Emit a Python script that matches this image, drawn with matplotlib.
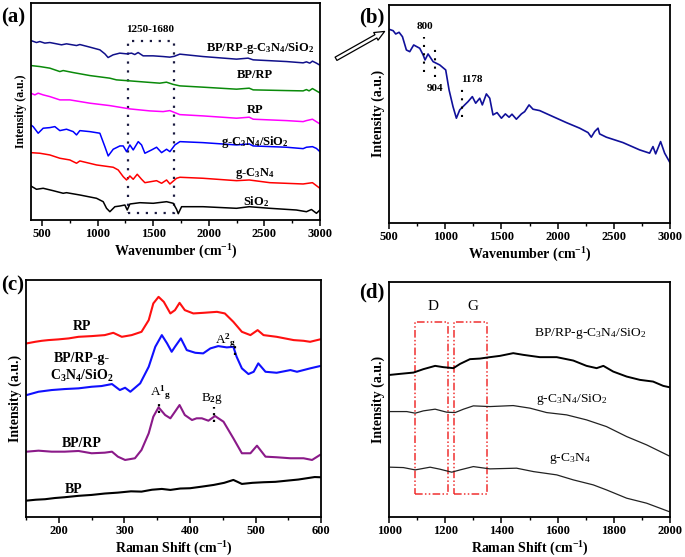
import matplotlib.pyplot as plt
from matplotlib.patches import Rectangle, FancyArrowPatch
from matplotlib.ticker import MultipleLocator

# ---------- (a) FTIR spectra ----------
a_bprp_gcn_x = [400, 451, 481, 526, 571, 631, 676, 721, 811, 841, 931, 1021, 1066, 1095, 1140, 1200, 1261, 1306,
                1335, 1365, 1410, 1500, 1590, 1650, 1690, 1740, 1949, 2250, 2354, 2400, 2700, 2849, 2879, 2909,
                2933, 2969, 3000]
a_bprp_gcn_y = [179.3, 177.3, 178.3, 176.7, 177.3, 176, 175, 176, 174.3, 175.3, 172.7, 170, 166, 162.3, 165, 166.7,
                166, 166.7, 165.3, 167.3, 164, 164, 163.3, 162.7, 163.5, 165.7, 163.3, 160.7, 161.7, 160, 158.3,
                157, 158, 156.7, 158.7, 156.7, 154.7]

a_bprp_x = [400, 481, 571, 661, 691, 781, 931, 1110, 1170, 1290, 1440, 1560, 1620, 1680, 1740, 1949, 2250, 2364,
            2400, 2700, 2849, 2879, 2903, 2933, 3000]
a_bprp_y = [154.3, 153.3, 151.7, 148.3, 149.3, 147.3, 144.3, 141.7, 140, 139, 137.7, 136.7, 137.7, 135.5, 134,
            132.7, 130.7, 131.7, 130, 129.3, 129, 130.3, 129, 131.3, 127]

a_rp_x = [400, 436, 466, 511, 571, 661, 751, 931, 1110, 1290, 1470, 1590, 1650, 1740, 1949, 2250, 2364, 2400, 2700,
          2849, 2879, 2933, 3000]
a_rp_y = [126.7, 125, 126.7, 125, 123.3, 120, 120, 116.7, 114.3, 111, 109, 108.3, 109.3, 105.3, 104, 101.7, 102.7,
          100.7, 99.3, 98.3, 99.3, 100.7, 96]

a_gcn_si_x = [400, 421, 466, 511, 571, 616, 661, 721, 781, 811, 841, 931, 1021, 1066, 1096, 1141, 1201, 1231, 1261,
              1291, 1321, 1366, 1396, 1426, 1486, 1531, 1576, 1621, 1651, 1696, 1741, 1949, 2250, 2364, 2400, 2700,
              2849, 2879, 2933, 2969, 3000]
a_gcn_si_y = [95, 93.3, 86.7, 91.7, 92.3, 93.3, 89.3, 90.7, 88.3, 85, 89.3, 88.3, 86.7, 73.3, 64, 70.7, 74, 74, 68.3,
              75, 70, 78.3, 75, 66.7, 70, 72.7, 67.3, 70.7, 68.3, 75, 78.3, 77.3, 75, 76, 74, 72.7, 71.3, 72.7, 73.3,
              71.5, 68.3]

a_gcn_x = [400, 481, 571, 661, 751, 811, 841, 991, 1141, 1186, 1231, 1261, 1291, 1321, 1357, 1396, 1426, 1531, 1576,
           1621, 1651, 1711, 1741, 1949, 2250, 2364, 2550, 2849, 2933, 3000]
a_gcn_y = [67.3, 66.7, 65, 61.7, 60, 56.7, 59, 55, 52.7, 50, 43.3, 40, 44, 40.7, 45.7, 40.7, 37.3, 39.3, 36.7, 40, 36,
           41.7, 42.7, 41.7, 39.3, 40, 37.3, 36, 37.3, 31.7]

a_si_x = [400, 451, 511, 601, 691, 721, 841, 991, 1051, 1081, 1111, 1156, 1201, 1246, 1267, 1291, 1381, 1501, 1621,
          1681, 1711, 1726, 1756, 1949, 2250, 2364, 2550, 2788, 2879, 2924, 2969, 3000]
a_si_y = [34, 30.7, 31.7, 29.3, 26.7, 27.3, 25, 21.7, 18.3, 11.7, 8.3, 13.3, 14, 15, 10, 16, 17.3, 16.7, 18.3, 16.7,
          10.7, 6.3, 13.3, 13.3, 11.7, 13.3, 11.7, 10, 8.3, 10.5, 6.7, 10]

# ---------- (b) FTIR of BP/RP-g-C3N4/SiO2 ----------
b_x = [500, 536, 559, 589, 619, 654, 684, 719, 773, 803, 820, 847, 892, 951, 1004, 1034, 1069, 1099, 1129, 1173,
       1203, 1241, 1271, 1307, 1330, 1366, 1396, 1425, 1461, 1500, 1535, 1568, 1594, 1633, 1678, 1707, 1746, 1781,
       1841, 1959, 2078, 2197, 2271, 2300, 2330, 2360, 2374, 2434, 2582, 2730, 2819, 2849, 2873, 2917, 2953, 3000]
b_y = [193.7, 192.3, 189, 190.7, 186.3, 173, 171.3, 178, 174.7, 168, 163, 169, 161.3, 158, 153, 133, 116.3, 104.7,
       113, 118, 121.3, 126.3, 119.7, 124.7, 118, 129, 124.7, 108, 110.3, 104.7, 109, 105.7, 108.7, 103.7, 109,
       111.3, 118, 113.7, 112.3, 106.3, 100.3, 94.7, 90.3, 85.7, 91.3, 94.7, 89, 85.7, 80.3, 73, 69.7, 76.3, 69,
       81.3, 69.7, 60.3]

# ---------- (c) Raman spectra ----------
c_rp_x = [151, 164, 174, 184, 199, 215, 230, 250, 270, 283, 296, 311, 326, 337, 344, 352, 360, 370, 377, 384, 392,
          405, 420, 441, 453, 466, 479, 492, 503, 512, 532, 558, 573, 583, 598]
c_rp_y = [173.7, 175.3, 176.3, 177, 177.7, 178.7, 180.3, 181, 182, 184.3, 180.3, 182, 185.3, 197, 213.7, 220.3,
          215.3, 203.7, 207, 214.3, 207, 203.7, 204.3, 205.3, 203.7, 195.3, 185.3, 182, 187, 182, 180.3, 177,
          176.3, 175.3, 177.7]

c_bprp_gcn_x = [151, 169, 189, 209, 230, 250, 265, 281, 293, 301, 309, 324, 337, 347, 357, 365, 372, 377, 386, 395,
                408, 420, 431, 443, 456, 466, 471, 479, 489, 497, 504, 515, 532, 553, 563, 583, 598]
c_bprp_gcn_y = [122, 125.3, 127, 128, 128.7, 130.3, 131, 133, 127, 129.3, 125.3, 133.7, 150.3, 170.3, 182, 173.7,
                165.3, 170.3, 178.7, 167, 164.3, 163.7, 168.7, 171, 169.7, 170.3, 160.3, 148.7, 143, 145.3, 153.7,
                145.3, 144.3, 147, 145.3, 148.7, 151]

c_bprp_x = [151, 169, 189, 209, 230, 250, 270, 281, 290, 301, 316, 326, 337, 344, 352, 362, 370, 377, 384, 392, 403,
            410, 418, 428, 438, 451, 466, 479, 492, 502, 515, 532, 553, 573, 586, 598]
c_bprp_y = [65.3, 66.3, 65.3, 65.3, 66, 63.7, 64.3, 65.3, 60.3, 57, 58.7, 67, 83.7, 100.3, 109.7, 102, 98.7, 105.3,
            112, 102, 97, 98.7, 98.7, 96.3, 101, 95.3, 78.7, 63.7, 63.7, 71.3, 60.3, 59.7, 58.7, 58.7, 57, 62]

c_bp_x = [151, 165, 179, 194, 209, 230, 250, 270, 290, 310, 326, 342, 357, 370, 385, 400, 418, 436, 452, 466, 472,
          479, 495, 512, 530, 548, 565, 578, 590, 598]
c_bp_y = [16.3, 17.2, 17.7, 18.9, 19.7, 21.1, 22, 23.4, 24.3, 25.6, 25.3, 27.2, 28, 27, 28.4, 28.7, 30.3, 32, 34.1,
          37, 35.2, 33, 34.1, 34.7, 35.1, 36.3, 37.4, 38.7, 39.9, 39.7]

# ---------- (d) Raman D/G region ----------
d_bprp_gcn_x = [1004, 1039, 1087, 1122, 1164, 1193, 1229, 1253, 1288, 1324, 1359, 1395, 1442, 1478, 1537, 1597, 1656,
                1703, 1739, 1763, 1798, 1846, 1893, 1940, 1976, 1997]
d_bprp_gcn_y = [142, 143, 144.3, 147.7, 151, 149.7, 148.7, 153, 157.7, 158.3, 159.7, 161, 163.7, 162, 159.7, 159.7,
                156.3, 151, 148.7, 151, 145.3, 140.3, 137, 135.3, 131, 129.7]

d_gcn_si_x = [1004, 1063, 1093, 1122, 1164, 1205, 1235, 1265, 1300, 1359, 1442, 1502, 1561, 1632, 1703, 1774, 1846,
              1917, 1997]
d_gcn_si_y = [105.3, 105.3, 103.7, 106, 107.7, 104.7, 104.3, 107.7, 111, 110.3, 111.3, 108.7, 104.3, 102, 97, 90.3,
              80.3, 72, 61]

d_gcn_x = [1004, 1051, 1093, 1146, 1181, 1223, 1253, 1300, 1359, 1454, 1514, 1597, 1656, 1727, 1774, 1846, 1917,
           1997]
d_gcn_y = [49.7, 49.3, 47, 49.7, 47.7, 44.7, 47, 50.3, 48, 48.7, 45.3, 42, 37, 32, 27, 18.7, 13.7, 5.3]


plt.rcParams['font.family'] = 'Liberation Serif'
plt.rcParams['mathtext.fontset'] = 'custom'
plt.rcParams['mathtext.rm'] = 'Liberation Serif:bold'
plt.rcParams['mathtext.bf'] = 'Liberation Serif:bold'
plt.rcParams['mathtext.sf'] = 'Liberation Serif'
plt.rcParams['mathtext.default'] = 'rm'


def style(ax, xlabel, major, minor, ysize=10):
    ax.set_yticks([])
    ax.xaxis.set_major_locator(MultipleLocator(major))
    ax.xaxis.set_minor_locator(MultipleLocator(minor))
    ax.tick_params(axis='x', which='major', direction='out', length=4, width=1.1, labelsize=9, pad=2)
    ax.tick_params(axis='x', which='minor', direction='out', length=2.2, width=1)
    for lab in ax.get_xticklabels():
        lab.set_fontweight('bold')
    for s in ax.spines.values():
        s.set_linewidth(1.3)
    ax.set_xlabel(xlabel, fontsize=10, fontweight='bold', labelpad=2)
    ax.set_ylabel('Intensity (a.u.)', fontsize=ysize, fontweight='bold', labelpad=3)


fig = plt.figure(figsize=(6.85, 5.57), dpi=100)

# (a)
ax1 = fig.add_axes([0.045, 0.605, 0.422, 0.39])
ax1.plot(a_bprp_gcn_x, a_bprp_gcn_y, color='#10108a', lw=1.1)
ax1.plot(a_bprp_x, a_bprp_y, color='#0a8a0a', lw=1.1)
ax1.plot(a_rp_x, a_rp_y, color='#ff00ff', lw=1.1)
ax1.plot(a_gcn_si_x, a_gcn_si_y, color='#0000ff', lw=1.1)
ax1.plot(a_gcn_x, a_gcn_y, color='#ff0000', lw=1.1)
ax1.plot(a_si_x, a_si_y, color='black', lw=1.1)
ax1.add_patch(Rectangle((1270, 6.7), 417, 172.3, fill=False, ec='#1a1a40', lw=1.6, ls=(0, (1, 3))))
ax1.text(1470, 190, '1250-1680', ha='center', va='center', fontsize=8, fontweight='bold')
ax1.text(2460, 171.7, 'BP/RP-g-C$_3$N$_4$/SiO$_2$', ha='center', va='center', fontsize=9, fontweight='bold')
ax1.text(2414, 145, 'BP/RP', ha='center', va='center', fontsize=9, fontweight='bold')
ax1.text(2414, 110, 'RP', ha='center', va='center', fontsize=9, fontweight='bold')
ax1.text(2414, 78.3, 'g-C$_3$N$_4$/SiO$_2$', ha='center', va='center', fontsize=9, fontweight='bold')
ax1.text(2414, 46.7, 'g-C$_3$N$_4$', ha='center', va='center', fontsize=9, fontweight='bold')
ax1.text(2430, 18.3, 'SiO$_2$', ha='center', va='center', fontsize=9, fontweight='bold')
ax1.set_xlim(400, 3000)
ax1.set_ylim(0, 217)
style(ax1, 'Wavenumber (cm$^{-1}$)', 500, 250, ysize=8.5)

# (b)
ax2 = fig.add_axes([0.568, 0.600, 0.410, 0.391])
ax2.plot(b_x, b_y, color='#10109a', lw=1.2)
ax2.plot([811, 811], [151.3, 186.3], color='black', lw=1.5, ls=(0, (1, 3)))
ax2.plot([906, 906], [146.3, 174.7], color='black', lw=1.5, ls=(0, (1, 3)))
ax2.plot([1150, 1150], [106.3, 134.7], color='black', lw=1.5, ls=(0, (1, 3)))
ax2.text(820, 196.3, '800', ha='center', va='center', fontsize=8, fontweight='bold')
ax2.text(906, 134.7, '904', ha='center', va='center', fontsize=8, fontweight='bold')
ax2.text(1233, 143.7, '1178', ha='center', va='center', fontsize=8, fontweight='bold')
ax2.set_xlim(500, 3000)
ax2.set_ylim(0, 218)
style(ax2, 'Wavenumber (cm$^{-1}$)', 500, 250)

# (c)
ax3 = fig.add_axes([0.038, 0.072, 0.431, 0.425])
ax3.plot(c_rp_x, c_rp_y, color='#ff1010', lw=1.5)
ax3.plot(c_bprp_gcn_x, c_bprp_gcn_y, color='#1010ff', lw=1.5)
ax3.plot(c_bprp_x, c_bprp_y, color='#8b1a89', lw=1.5)
ax3.plot(c_bp_x, c_bp_y, color='black', lw=1.5)
ax3.plot([353, 353], [103.7, 117], color='black', lw=1.6, ls=(0, (1, 2)))
ax3.plot([436, 436], [95.3, 110.3], color='black', lw=1.6, ls=(0, (1, 2)))
ax3.plot([468, 468], [162, 175.3], color='black', lw=1.6, ls=(0, (1, 2)))
ax3.text(355, 124, 'A$^{1}$$_{g}$', ha='center', va='center', fontsize=9.5)
ax3.text(434, 119, 'B$_2$g', ha='center', va='center', fontsize=9.5)
ax3.text(455, 176, 'A$^{2}$$_{g}$', ha='center', va='center', fontsize=9.5)
ax3.text(235, 190.3, 'RP', ha='center', va='center', fontsize=10, fontweight='bold')
ax3.text(235, 149, 'BP/RP-g-\nC$_3$N$_4$/SiO$_2$', ha='center', va='center', fontsize=10,
         fontweight='bold', linespacing=1.3)
ax3.text(235, 73.7, 'BP/RP', ha='center', va='center', fontsize=10, fontweight='bold')
ax3.text(222, 27, 'BP', ha='center', va='center', fontsize=10, fontweight='bold')
ax3.set_xlim(150, 600)
ax3.set_ylim(0, 237)
style(ax3, 'Raman Shift (cm$^{-1}$)', 100, 50)

# (d)
ax4 = fig.add_axes([0.568, 0.072, 0.410, 0.422])
ax4.plot(d_bprp_gcn_x, d_bprp_gcn_y, color='black', lw=1.4)
ax4.plot(d_gcn_si_x, d_gcn_si_y, color='#222222', lw=0.9)
ax4.plot(d_gcn_x, d_gcn_y, color='#222222', lw=0.9)
ax4.add_patch(Rectangle((1093, 23), 118, 172.3, fill=False, ec='#f03030', lw=1.1, ls=(0, (5, 1.5, 1, 1.5, 1, 1.5))))
ax4.add_patch(Rectangle((1232, 23), 118, 172.3, fill=False, ec='#f03030', lw=1.1, ls=(0, (5, 1.5, 1, 1.5, 1, 1.5))))
ax4.text(1158, 210.3, 'D', ha='center', va='center', fontsize=11)
ax4.text(1298, 210.3, 'G', ha='center', va='center', fontsize=11)
ax4.text(1715, 183.7, r'BP/RP-g-C$_\mathsf{3}$N$_\mathsf{4}$/SiO$_\mathsf{2}$', ha='center', va='center', fontsize=9.7)
ax4.text(1650, 117.7, r'g-C$_\mathsf{3}$N$_\mathsf{4}$/SiO$_\mathsf{2}$', ha='center', va='center', fontsize=9.7)
ax4.text(1644, 58.7, r'g-C$_\mathsf{3}$N$_\mathsf{4}$', ha='center', va='center', fontsize=9.7)
ax4.set_xlim(1000, 2000)
ax4.set_ylim(0, 235)
style(ax4, 'Raman Shift (cm$^{-1}$)', 200, 100)

# panel letters
fig.text(0.002, 0.968, '(a)', fontsize=15, fontweight='bold', va='center')
fig.text(0.525, 0.968, '(b)', fontsize=15, fontweight='bold', va='center')
fig.text(0.002, 0.488, '(c)', fontsize=15, fontweight='bold', va='center')
fig.text(0.525, 0.474, '(d)', fontsize=15, fontweight='bold', va='center')

# arrow from (a) to (b)
fig.add_artist(FancyArrowPatch((0.487, 0.892), (0.565, 0.946), transform=fig.transFigure,
                               arrowstyle='simple,head_width=0.7,head_length=0.8,tail_width=0.3',
                               mutation_scale=9, fc='white', ec='black', lw=0.9))

plt.savefig('out.png', dpi=100)
